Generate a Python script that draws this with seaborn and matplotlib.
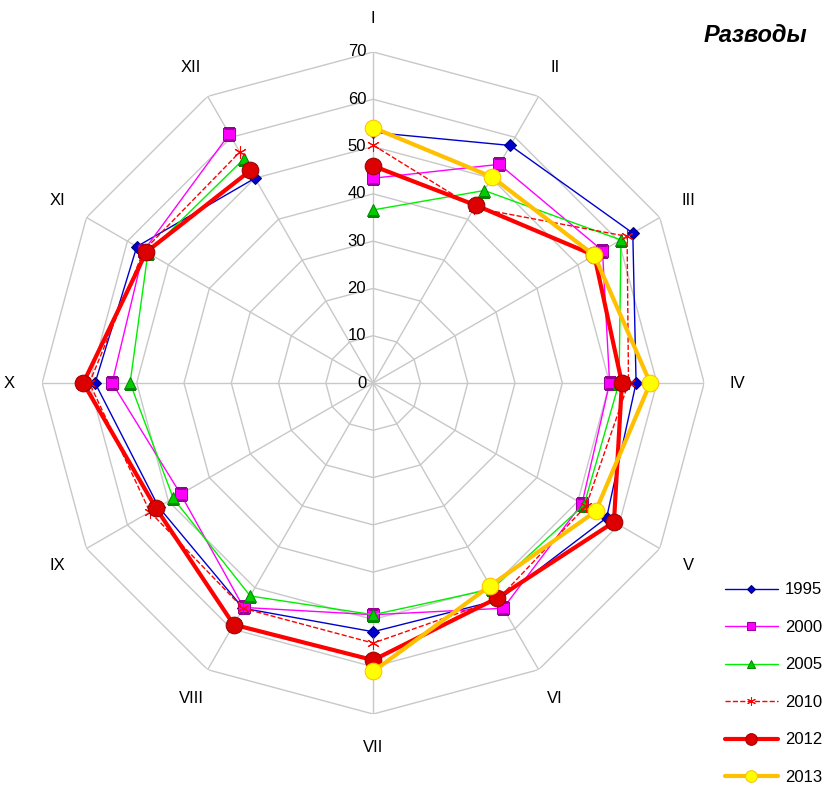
import numpy as np
import pandas as pd
import matplotlib
matplotlib.use("Agg")
import matplotlib.pyplot as plt
import matplotlib.transforms as mtransforms
import seaborn as sns

months = ["I","II","III","IV","V","VI","VII","VIII","IX","X","XI","XII"]
v1995 = [53, 58, 63.4, 55.6, 57, 53, 52.6, 55, 52.4, 58.8, 57.7, 50]
v2000 = [43.3, 53.4, 56, 50, 51, 55, 49, 54.8, 47, 55.2, 56, 60.8]
v2005 = [36.6, 47, 60.5, 52, 51.5, 50.3, 49, 52, 48.8, 51.4, 55, 54.7]
v2010 = [50.3, 42.8, 62, 54, 52, 52.8, 55, 55, 54.5, 60, 56, 56.4]
v2012 = [45.9, 43.4, 54, 52.6, 58.8, 52.5, 58.6, 59, 53, 61.3, 55.4, 51.9]
v2013 = [54, 50.3, 54, 58.6, 54.3, 49.5, 61, np.nan, np.nan, np.nan, np.nan, np.nan]
rticks = [0, 10, 20, 30, 40, 50, 60, 70]

sns.set_style("white")
plt.rcParams['font.family'] = ['Liberation Sans', 'DejaVu Sans']
plt.rcParams['text.color'] = 'black'

fig = plt.figure(figsize=(8.32, 7.91), dpi=100)
ax = fig.add_axes([0.0505, 0.0973, 0.796, 0.837], projection="polar")
ax.set_theta_zero_location("N")
ax.set_theta_direction(-1)
ax.set_ylim(0, 70)
ax.grid(False)
ax.spines["polar"].set_visible(False)
ax.patch.set_alpha(0)

n = len(months)
theta = np.arange(n) * 2 * np.pi / n
tc = np.append(theta, theta[0])
for r in rticks[1:]:
    ax.plot(tc, [r] * (n + 1), color="#c8c8c8", lw=1, zorder=0)
for t in theta:
    ax.plot([t, t], [0, 70], color="#c8c8c8", lw=1, zorder=0)

off = mtransforms.offset_copy(ax.transData, fig=fig, x=-5, y=0, units="points")
for r in rticks:
    ax.text(0, r, str(r), transform=off, ha="right", va="center", fontsize=12, color="black")
for t, m in zip(theta, months):
    ax.text(t, 77, m, ha="center", va="center", fontsize=12, color="black")

styles = [
    ("1995", v1995, dict(color="#0000CC", lw=1, marker="D", ms=6, mfc="#0000CC", mec="#000080")),
    ("2000", v2000, dict(color="#FF00FF", lw=1, marker="s", ms=9, mfc="#FF00FF", mec="#990099")),
    ("2005", v2005, dict(color="#00EE00", lw=1, marker="^", ms=8, mfc="#00CC00", mec="#008800")),
    ("2010", v2010, dict(color="#FF0000", lw=1, ls="--", marker=(6, 2, 0), ms=9, mec="#FF0000")),
    ("2012", v2012, dict(color="#FF0000", lw=3, marker="o", ms=12, mfc="#DD0000", mec="#990000")),
    ("2013", v2013, dict(color="#FFC000", lw=3, marker="o", ms=12, mfc="#FFFF00", mec="#FFC000")),
]
for name, vals, kw in styles:
    vc = np.append(vals, vals[0])
    df = pd.DataFrame({"t": tc, "v": vc})
    sns.lineplot(data=df, x="t", y="v", ax=ax, sort=False, label=name, **kw)

ax.set_xlabel(""); ax.set_ylabel("")
ax.set_xticks([]); ax.set_yticks([])
ax.legend(loc="lower right", bbox_to_anchor=(1.0, -0.005), bbox_transform=fig.transFigure,
          frameon=False, fontsize=12, handlelength=3.2, labelspacing=1.35,
          markerscale=0.7, handletextpad=0.4, borderaxespad=0.2)
fig.text(0.97, 0.955, "Разводы", ha="right", va="center", fontsize=17,
         fontweight="bold", fontstyle="italic", color="black")
fig.savefig("out.png", dpi=100)
